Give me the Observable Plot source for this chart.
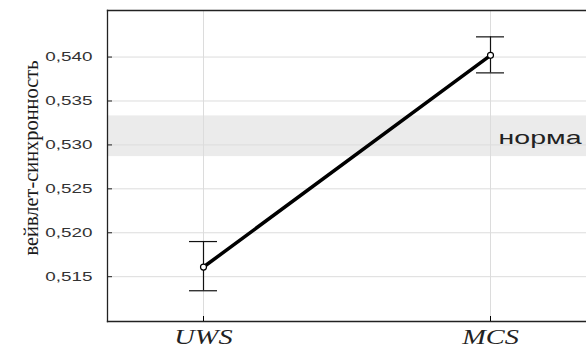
<!DOCTYPE html>
<html>
<head>
<meta charset="utf-8">
<script src="https://cdn.jsdelivr.net/npm/d3@7"></script>
<script src="https://cdn.jsdelivr.net/npm/@observablehq/plot@0.6"></script>
<style>
  html, body { margin: 0; padding: 0; background: #fff; }
  svg { display: block; }
</style>
</head>
<body>
<div id="chart"></div>
<script>
const groups = ["UWS", "MCS"];
const means = [0.5161, 0.5402];
const lows = [0.5134, 0.5382];
const highs = [0.5190, 0.5423];
const normBand = [0.52867, 0.5333];
const normLabel = "норма";
const yTicks = [0.515, 0.520, 0.525, 0.530, 0.535, 0.540];
const yLabel = "вейвлет-синхронность";

const data = groups.map((g, i) => ({group: g, mean: means[i], lo: lows[i], hi: highs[i]}));

const chart = Plot.plot({
  width: 586,
  height: 351,
  marginLeft: 107,
  marginRight: 0,
  marginTop: 10,
  marginBottom: 30,
  style: {background: "#fff"},
  x: {type: "band", domain: groups, paddingInner: 0.903, paddingOuter: 0.284, axis: null},
  y: {domain: [0.5099, 0.5453], axis: null},
  marks: [
    Plot.rect([{y1: normBand[0], y2: normBand[1]}], {y1: "y1", y2: "y2", fill: "#ebebeb"}),
    Plot.gridY(yTicks, {stroke: "#dcdcdc", strokeOpacity: 1}),
    Plot.gridX(groups, {stroke: "#dcdcdc", strokeOpacity: 1}),
    Plot.frame({anchor: "left", stroke: "#222", strokeWidth: 1.3}),
    Plot.frame({anchor: "top", stroke: "#222", strokeWidth: 1.3}),
    Plot.frame({anchor: "bottom", stroke: "#222", strokeWidth: 1.3}),
    Plot.axisY({ticks: yTicks, tickSize: 0, tickPadding: 15, tickFormat: d => d.toFixed(3).replace(".", ","),
      label: null, fontSize: 13, fontFamily: "Liberation Sans, Arial, sans-serif", fill: "#333", className: "ytl"}),
    Plot.axisY({ticks: yTicks, tickSize: -5, tickFormat: () => "", label: null, stroke: "#222"}),
    Plot.axisX({tickSize: -5, tickPadding: 13, label: null, fontSize: 21, fontStyle: "italic",
      fontFamily: "Liberation Serif, Times New Roman, serif", fill: "#222", className: "xtl"}),
    Plot.text([normLabel], {frameAnchor: "right", y: [(normBand[0] + normBand[1]) / 2], text: d => d,
      textAnchor: "end", dx: -5, dy: 2, fontSize: 19, fontFamily: "Liberation Sans, Arial, sans-serif",
      fill: "#222", className: "norm"}),
    Plot.text([yLabel], {frameAnchor: "left", rotate: -90, text: d => d, dx: -76, dy: -8,
      fontSize: 21, fontFamily: "Liberation Serif, Times New Roman, serif", fill: "#1a1a1a", className: "ylab"}),
    Plot.ruleX(data, {x: "group", y1: "lo", y2: "hi", stroke: "#111", strokeWidth: 1.2}),
    Plot.tickY(data, {x: "group", y: "lo", stroke: "#111", strokeWidth: 1.2}),
    Plot.tickY(data, {x: "group", y: "hi", stroke: "#111", strokeWidth: 1.2}),
    Plot.line(data, {x: "group", y: "mean", stroke: "#000", strokeWidth: 3.5}),
    Plot.dot(data, {x: "group", y: "mean", r: 3, stroke: "#000", strokeWidth: 1.2, fill: "#fff"})
  ]
});
document.getElementById("chart").append(chart);

function stretch(sel, factor) {
  chart.querySelectorAll(sel + " text").forEach(t => {
    const w = t.getComputedTextLength();
    if (w > 0) {
      t.setAttribute("textLength", (w * factor).toFixed(1));
      t.setAttribute("lengthAdjust", "spacingAndGlyphs");
    }
  });
}
stretch(".ytl", 1.45);
stretch(".xtl", 1.35);
stretch(".norm", 1.5);
chart.querySelectorAll(".ylab text").forEach(t => {
  t.setAttribute("text-anchor", "start");
  t.setAttribute("x", "-97.5");
  t.setAttribute("textLength", "195");
  t.setAttribute("lengthAdjust", "spacingAndGlyphs");
});
</script>
</body>
</html>
